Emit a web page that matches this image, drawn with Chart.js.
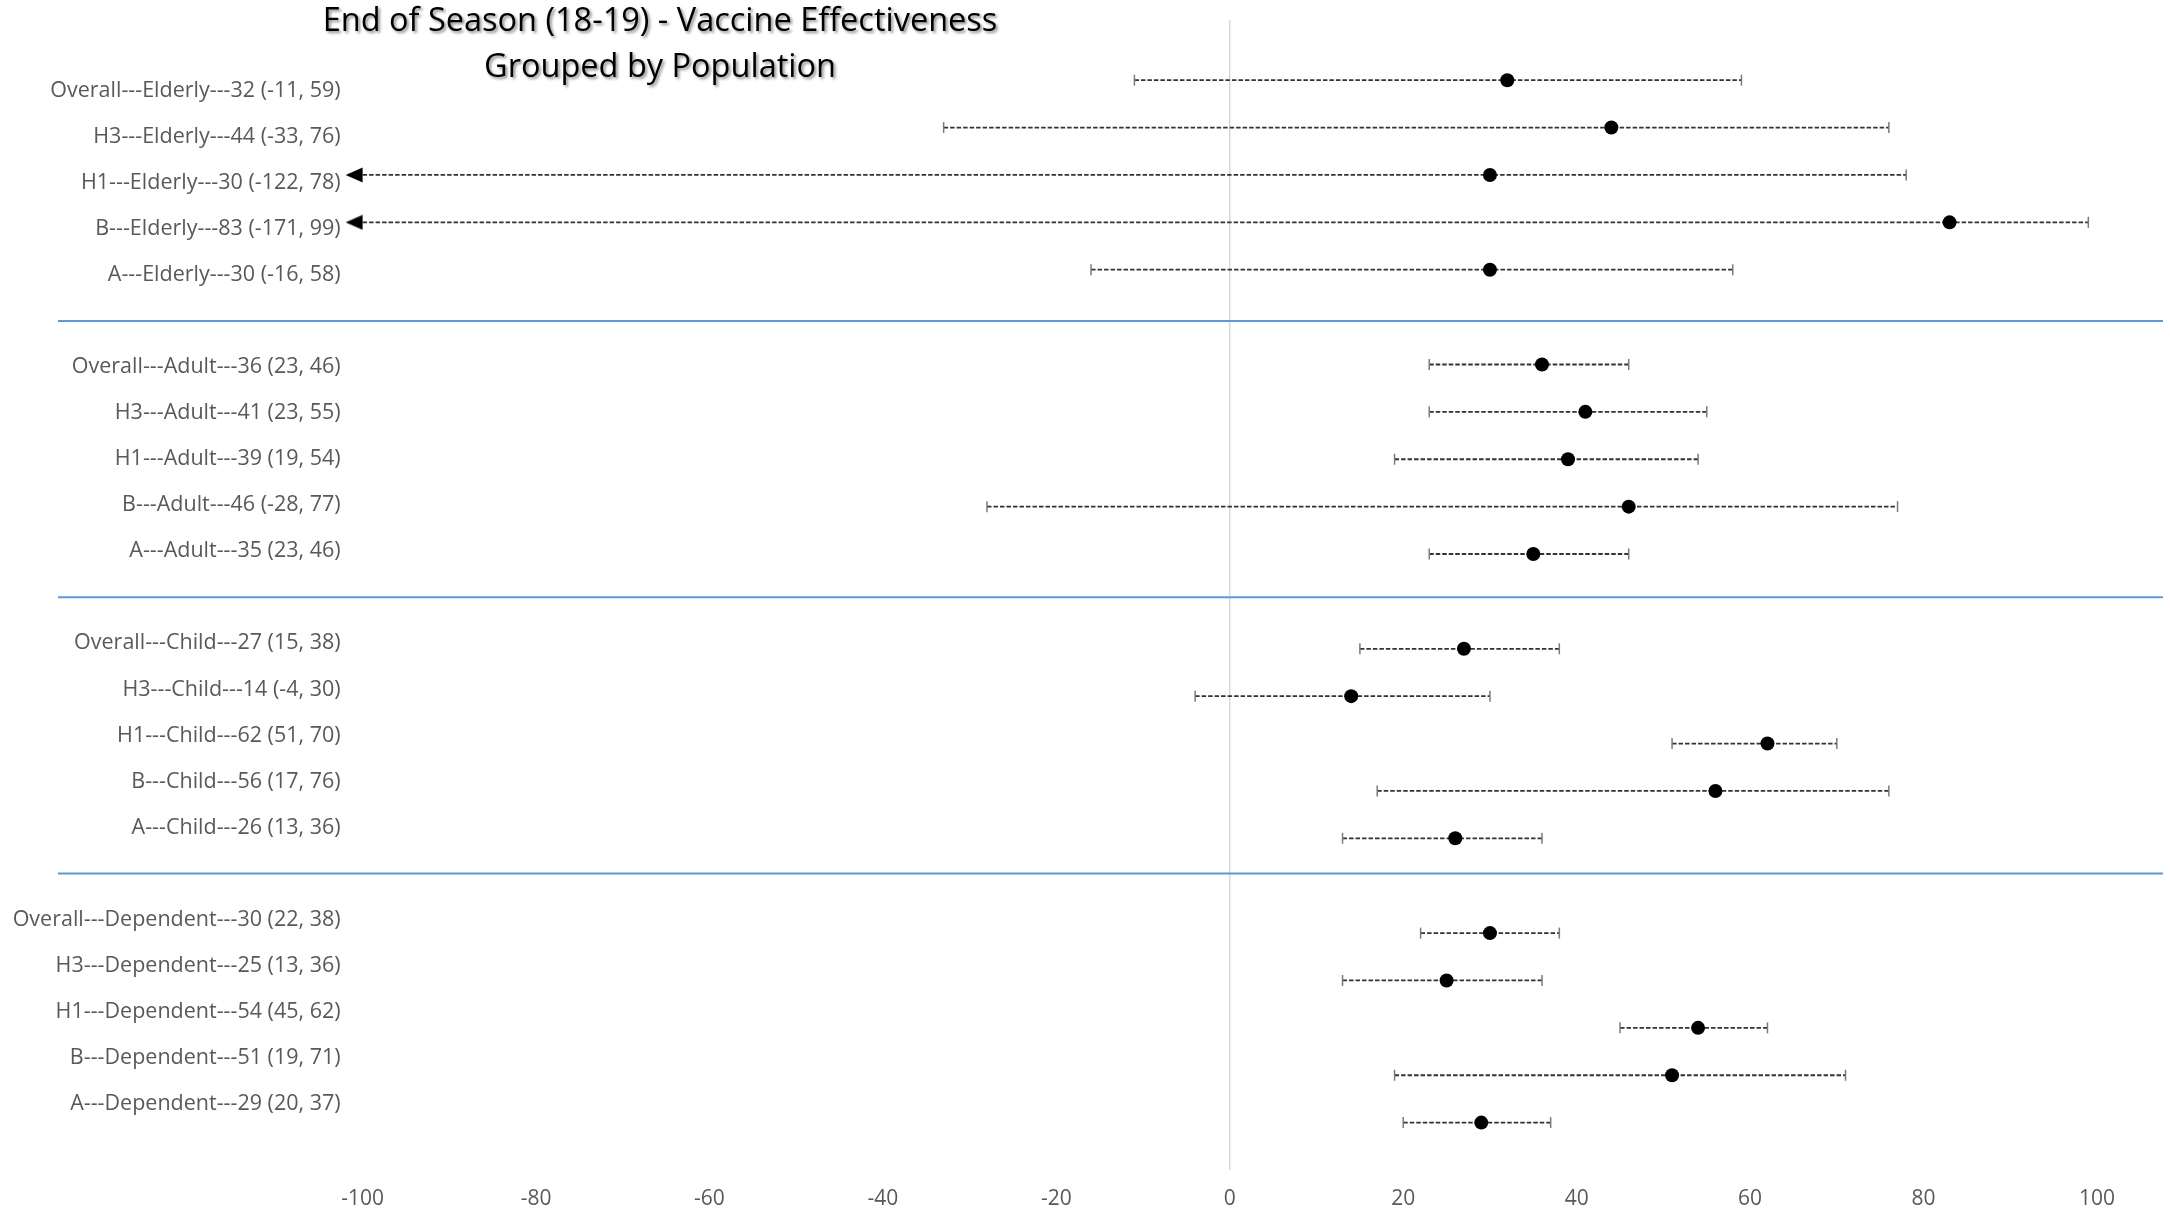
<!DOCTYPE html>
<html>
<head>
<meta charset="utf-8">
<script src="https://cdn.jsdelivr.net/npm/chart.js@4/dist/chart.umd.min.js"></script>
<style>
  html, body { margin: 0; padding: 0; background: #fff; }
  #wrap { width: 2170px; height: 1213px; }
</style>
</head>
<body>
<div id="wrap"><canvas id="veChart" width="2170" height="1213"></canvas></div>
<script>
// values (VE and 95% CI)
const strains = ['Overall', 'H3', 'H1', 'B', 'A'];
const populations = ['Elderly', 'Adult', 'Child', 'Dependent'];

const elderlyVE = [32, 44, 30, 83, 30];
const elderlyLow = [-11, -33, -122, -171, -16];
const elderlyHigh = [59, 76, 78, 99, 58];

const adultVE = [36, 41, 39, 46, 35];
const adultLow = [23, 23, 19, -28, 23];
const adultHigh = [46, 55, 54, 77, 46];

const childVE = [27, 14, 62, 56, 26];
const childLow = [15, -4, 51, 17, 13];
const childHigh = [38, 30, 70, 76, 36];

const dependentVE = [30, 25, 54, 51, 29];
const dependentLow = [22, 13, 45, 19, 20];
const dependentHigh = [38, 36, 62, 71, 37];

const xTicks = [-100, -80, -60, -40, -20, 0, 20, 40, 60, 80, 100];
const titleLines = ['End of Season (18-19) - Vaccine Effectiveness', 'Grouped by Population'];

const veList = [elderlyVE, adultVE, childVE, dependentVE];
const lowList = [elderlyLow, adultLow, childLow, dependentLow];
const highList = [elderlyHigh, adultHigh, childHigh, dependentHigh];

const xMin = xTicks[0];
const xMax = xTicks[xTicks.length - 1];

// one empty slot between the population groups
const rows = [];
populations.forEach((pop, g) => {
  strains.forEach((s, i) => {
    const ve = veList[g][i], lo = lowList[g][i], hi = highList[g][i];
    rows.push({
      slot: g * (strains.length + 1) + i,
      label: s + '---' + pop + '---' + ve + ' (' + lo + ', ' + hi + ')',
      ve: ve, lo: lo, hi: hi
    });
  });
});
const gapSlots = populations.slice(1).map((p, g) => (g + 1) * (strains.length + 1) - 1);
const labelBySlot = {};
rows.forEach(r => { labelBySlot[r.slot] = r.label; });

// arrow head for intervals running past the axis minimum
function makeArrow() {
  const c = document.createElement('canvas');
  c.width = 34; c.height = 16;
  const g = c.getContext('2d');
  g.fillStyle = '#000';
  g.beginPath();
  g.moveTo(0, 8);
  g.lineTo(17, 0.5);
  g.lineTo(17, 15.5);
  g.closePath();
  g.fill();
  return c;
}
const arrow = makeArrow();

const ciSets = rows.map(r => {
  const clipped = r.lo < xMin;
  return {
    type: 'scatter',
    showLine: true,
    yAxisID: 'yPts',
    data: [{ x: Math.max(r.lo, xMin), y: r.slot }, { x: Math.min(r.hi, xMax), y: r.slot }],
    borderColor: '#333333',
    borderWidth: 1.8,
    borderDash: [4.5, 2],
    pointStyle: [clipped ? arrow : 'line', 'line'],
    pointRotation: [clipped ? 0 : 90, 90],
    pointRadius: 5.5,
    pointBorderColor: '#7a7a7a',
    pointBorderWidth: 1.5,
    clip: false,
    order: 1
  };
});

const pointSet = {
  type: 'scatter',
  yAxisID: 'yPts',
  data: rows.map(r => ({ x: r.ve, y: r.slot })),
  backgroundColor: '#000',
  borderColor: '#000',
  pointRadius: 7,
  borderWidth: 0,
  order: 0
};

const groupLines = {
  id: 'groupLines',
  beforeDatasetsDraw(chart, args, opts) {
    const ctx = chart.ctx;
    const y = chart.scales.yLab;
    ctx.save();
    ctx.strokeStyle = opts.color;
    ctx.lineWidth = opts.width;
    opts.slots.forEach(s => {
      const py = y.getPixelForValue(s);
      ctx.beginPath();
      ctx.moveTo(opts.left, py);
      ctx.lineTo(opts.right, py);
      ctx.stroke();
    });
    ctx.restore();
  }
};

const shadowTitle = {
  id: 'shadowTitle',
  afterDraw(chart, args, opts) {
    const ctx = chart.ctx;
    ctx.save();
    ctx.font = opts.size + 'px "Open Sans"';
    ctx.textAlign = 'center';
    ctx.textBaseline = 'middle';
    ctx.fillStyle = '#000';
    ctx.shadowColor = 'rgba(0,0,0,0.45)';
    ctx.shadowOffsetX = 2;
    ctx.shadowOffsetY = 2;
    ctx.shadowBlur = 3;
    opts.lines.forEach((t, i) => {
      ctx.fillText(t, opts.x, opts.y + i * opts.lineGap);
    });
    ctx.restore();
  }
};

Chart.defaults.font.family = '"Open Sans", sans-serif';

const veChart = new Chart(document.getElementById('veChart'), {
  type: 'scatter',
  data: { datasets: [pointSet].concat(ciSets) },
  options: {
    responsive: false,
    animation: false,
    events: [],
    layout: { padding: { top: 20, right: 73, left: 0, bottom: 0 } },
    plugins: {
      legend: { display: false },
      tooltip: { enabled: false },
      groupLines: { slots: gapSlots, color: '#5b9bd5', width: 2, left: 58, right: 2163 },
      shadowTitle: { lines: titleLines, size: 32.5, x: 660, y: 22, lineGap: 46 }
    },
    scales: {
      x: {
        type: 'linear',
        min: xMin,
        max: xMax,
        afterBuildTicks: s => { s.ticks = xTicks.map(v => ({ value: v })); },
        afterFit: s => { s.height = 43; },
        border: { display: false },
        grid: {
          drawTicks: false,
          lineWidth: 1.5,
          color: c => (c.tick && c.tick.value === 0 ? '#d9d9d9' : 'rgba(0,0,0,0)')
        },
        ticks: { color: '#595959', font: { size: 21 }, padding: 16, maxRotation: 0 }
      },
      yPts: {
        type: 'linear',
        display: false,
        reverse: true,
        min: -1.27,
        max: 23
      },
      yLab: {
        type: 'linear',
        position: 'left',
        reverse: true,
        min: -1.54,
        max: 23.44,
        afterBuildTicks: s => { s.ticks = rows.map(r => ({ value: r.slot })); },
        afterFit: s => {
          s.width = 362.6;
          s.paddingTop = 0;
          s.paddingBottom = 0;
        },
        border: { display: false },
        grid: { display: false, drawTicks: false },
        ticks: {
          autoSkip: false,
          color: '#595959',
          font: { size: 21.5 },
          padding: 22,
          callback: v => labelBySlot[v] || ''
        }
      }
    }
  },
  plugins: [groupLines, shadowTitle]
});
</script>
</body>
</html>
